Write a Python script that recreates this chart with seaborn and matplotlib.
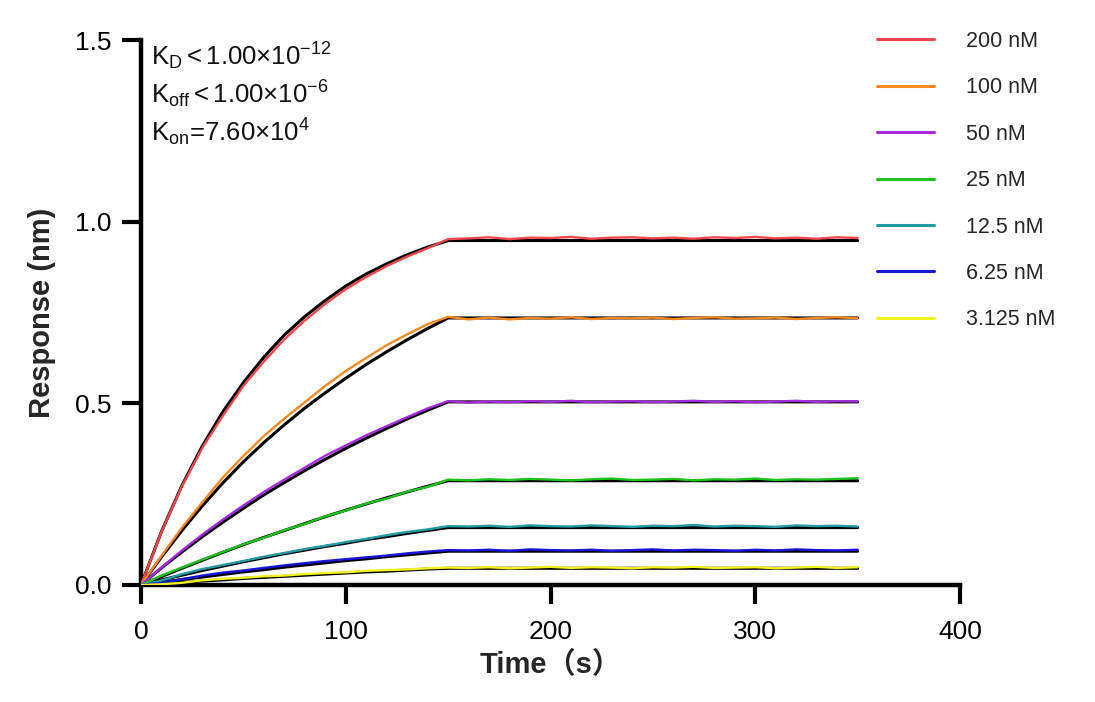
import pandas as pd
import seaborn as sns
import matplotlib.pyplot as plt
from matplotlib.lines import Line2D

# --- values ---
conc_labels = ['200 nM', '100 nM', '50 nM', '25 nM', '12.5 nM', '6.25 nM', '3.125 nM']
curve_colors = ['#f2474c', '#f7891f', '#a82ae0', '#1cc41c', '#229ca3', '#1616d8', '#f2f21e']

# measured traces, every 10 s from 0 to 350 s
time_s = list(range(0, 360, 10))
resp_200 = [0, 0.146, 0.272, 0.378, 0.466, 0.548, 0.615, 0.676, 0.728, 0.774, 0.814, 0.848,
            0.878, 0.904, 0.927, 0.952, 0.954, 0.957, 0.952, 0.956, 0.955, 0.958, 0.953, 0.956,
            0.957, 0.954, 0.956, 0.953, 0.957, 0.955, 0.958, 0.954, 0.956, 0.953, 0.957, 0.955]
resp_100 = [0, 0.080, 0.158, 0.228, 0.296, 0.355, 0.410, 0.458, 0.503, 0.548, 0.589, 0.625,
            0.660, 0.690, 0.718, 0.738, 0.731, 0.736, 0.731, 0.735, 0.733, 0.737, 0.732, 0.735,
            0.734, 0.736, 0.732, 0.735, 0.737, 0.733, 0.734, 0.736, 0.732, 0.735, 0.737, 0.734]
resp_50 = [0, 0.048, 0.095, 0.139, 0.180, 0.219, 0.256, 0.290, 0.323, 0.356, 0.384, 0.412,
           0.437, 0.462, 0.486, 0.506, 0.502, 0.505, 0.503, 0.506, 0.504, 0.507, 0.503, 0.505,
           0.506, 0.503, 0.505, 0.507, 0.504, 0.506, 0.503, 0.505, 0.507, 0.504, 0.506, 0.505]
resp_25 = [0, 0.026, 0.048, 0.070, 0.091, 0.112, 0.130, 0.151, 0.168, 0.189, 0.205, 0.224,
           0.238, 0.257, 0.270, 0.290, 0.288, 0.291, 0.289, 0.292, 0.290, 0.288, 0.291, 0.293,
           0.289, 0.290, 0.292, 0.288, 0.291, 0.290, 0.293, 0.289, 0.291, 0.290, 0.292, 0.294]
resp_12_5 = [0, 0.012, 0.030, 0.044, 0.055, 0.066, 0.078, 0.088, 0.099, 0.108, 0.118, 0.127,
             0.137, 0.146, 0.153, 0.162, 0.161, 0.163, 0.160, 0.164, 0.162, 0.161, 0.164, 0.162,
             0.160, 0.163, 0.162, 0.165, 0.161, 0.163, 0.162, 0.160, 0.164, 0.162, 0.163, 0.161]
resp_6_25 = [0, 0.006, 0.016, 0.026, 0.034, 0.040, 0.047, 0.054, 0.060, 0.066, 0.071, 0.076,
             0.081, 0.087, 0.092, 0.096, 0.095, 0.097, 0.094, 0.098, 0.096, 0.095, 0.097, 0.094,
             0.096, 0.098, 0.095, 0.097, 0.096, 0.094, 0.097, 0.095, 0.098, 0.096, 0.095, 0.097]
resp_3_125 = [0, 0.002, 0.006, 0.013, 0.017, 0.020, 0.024, 0.026, 0.030, 0.033, 0.035, 0.039,
              0.041, 0.043, 0.046, 0.048, 0.047, 0.049, 0.046, 0.048, 0.050, 0.047, 0.049, 0.048,
              0.046, 0.049, 0.048, 0.050, 0.047, 0.048, 0.049, 0.046, 0.048, 0.050, 0.047, 0.049]

# fitted curves (black): association 0-150 s, then flat to 350 s
fit_time = list(range(0, 160, 10)) + [350]
fit_200 = [0, 0.147, 0.274, 0.383, 0.477, 0.557, 0.627, 0.688, 0.739, 0.783, 0.823, 0.856,
           0.884, 0.909, 0.930, 0.948, 0.948]
fit_100 = [0, 0.077, 0.150, 0.218, 0.281, 0.339, 0.392, 0.441, 0.487, 0.529, 0.569, 0.607,
           0.642, 0.675, 0.706, 0.735, 0.735]
fit_50 = [0, 0.047, 0.091, 0.133, 0.173, 0.211, 0.248, 0.282, 0.315, 0.346, 0.376, 0.404,
          0.431, 0.457, 0.481, 0.504, 0.504]
fit_25 = [0, 0.023, 0.046, 0.068, 0.090, 0.111, 0.131, 0.150, 0.169, 0.188, 0.206, 0.223,
          0.240, 0.256, 0.272, 0.287, 0.287]
fit_12_5 = [0, 0.014, 0.027, 0.040, 0.052, 0.064, 0.075, 0.086, 0.096, 0.106, 0.115, 0.125,
            0.133, 0.142, 0.150, 0.158, 0.158]
fit_6_25 = [0, 0.008, 0.015, 0.022, 0.029, 0.036, 0.042, 0.049, 0.055, 0.061, 0.067, 0.072,
            0.078, 0.083, 0.088, 0.093, 0.093]
fit_3_125 = [0, 0.004, 0.007, 0.011, 0.014, 0.018, 0.021, 0.024, 0.027, 0.030, 0.033, 0.036,
             0.038, 0.041, 0.044, 0.046, 0.046]

kinetics_lines = [r'K$_{\mathrm{D}}<$1.00×10$^{\mathrm{-12}}$',
                  r'K$_{\mathrm{off}}<$1.00×10$^{\mathrm{-6}}$',
                  r'K$_{\mathrm{on}}$=7.60×10$^{\mathrm{4}}$']

measured = [resp_200, resp_100, resp_50, resp_25, resp_12_5, resp_6_25, resp_3_125]
fitted = [fit_200, fit_100, fit_50, fit_25, fit_12_5, fit_6_25, fit_3_125]

data_df = pd.concat([pd.DataFrame({'time': time_s, 'resp': r, 'conc': c})
                     for c, r in zip(conc_labels, measured)], ignore_index=True)
fit_df = pd.concat([pd.DataFrame({'time': fit_time, 'resp': r, 'conc': c})
                    for c, r in zip(conc_labels, fitted)], ignore_index=True)

sns.set_theme(style='ticks')
plt.rcParams['font.family'] = ['Liberation Sans', 'Noto Sans CJK SC', 'DejaVu Sans']
plt.rcParams['mathtext.fontset'] = 'custom'
plt.rcParams['mathtext.rm'] = 'Liberation Sans'
plt.rcParams['mathtext.it'] = 'Liberation Sans:italic'
plt.rcParams['mathtext.bf'] = 'Liberation Sans:bold'

fig = plt.figure(figsize=(10.95, 7.02), dpi=100)
ax = fig.add_axes([141 / 1095, 1 - 585 / 702, (960 - 141) / 1095, (585 - 40) / 702])

sns.lineplot(data=fit_df, x='time', y='resp', units='conc', estimator=None,
             color='black', lw=2.2, legend=False, ax=ax, zorder=2)
sns.lineplot(data=data_df, x='time', y='resp', hue='conc', hue_order=conc_labels,
             palette=curve_colors, estimator=None, lw=1.7, legend=False, ax=ax, zorder=3)

ax.set_xlim(0, 400)
ax.set_ylim(0, 1.5)
ax.set_xticks([0, 100, 200, 300, 400])
ax.set_yticks([0, 0.5, 1.0, 1.5])
ax.set_yticklabels(['0.0', '0.5', '1.0', '1.5'])
sns.despine(ax=ax)
for side in ['left', 'bottom']:
    ax.spines[side].set_linewidth(3.2)
    ax.spines[side].set_color('black')
ax.tick_params(direction='out', length=14, width=3, colors='black', labelsize=19)
ax.tick_params(axis='x', pad=11)
ax.tick_params(axis='y', pad=7)

ax.set_xlabel('Time（s）', fontsize=21, fontweight='bold', labelpad=5)
ax.set_ylabel('Response (nm)', fontsize=21, fontweight='bold', labelpad=14)

for i, line in enumerate(kinetics_lines):
    fig.text(151 / 1095, 1 - (65 + 38 * i) / 702, line, fontsize=18.5,
             va='baseline', ha='left', color='#111111')

handles = [Line2D([], [], color=c, lw=2.2) for c in curve_colors]
ax.legend(handles, conc_labels, loc='upper left', bbox_to_anchor=(877 / 1095, 1 - 31 / 702),
          bbox_transform=fig.transFigure, frameon=False, fontsize=15.5,
          handlelength=2.65, handletextpad=1.5, labelspacing=1.18,
          borderpad=0, borderaxespad=0)

fig.savefig('out.png', dpi=100)
